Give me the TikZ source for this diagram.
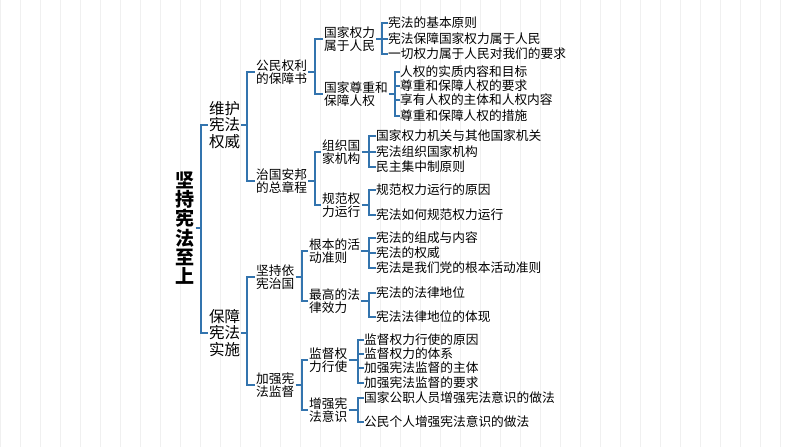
\documentclass[tikz,border=0pt]{standalone}
\usepackage{fontspec}
\setmainfont{Noto Sans CJK SC}
\begin{document}
\begin{tikzpicture}[x=1pt,y=-1pt,
  br/.style={draw=cyan!60!blue!80!black, line width=1.1pt},
  lf/.style={anchor=west, inner sep=0pt, font=\fontsize{12.7}{14}\selectfont},
  l2/.style={anchor=west, inner sep=1pt, align=left, font=\fontsize{12.7}{13.5}\selectfont},
  l1/.style={anchor=west, inner sep=1pt, align=left, font=\fontsize{15.5}{16.5}\selectfont},
]
\fill[white] (0,0) rectangle (794,447);
\useasboundingbox (0,0) rectangle (794,447);
\draw[black!6, line width=0.5pt, step=20] (0,0) grid (794,447);
% root
\node[align=center, inner sep=1pt, font=\fontsize{19}{19.3}\selectfont\bfseries] (r) at (185,228) {坚\\持\\宪\\法\\至\\上};
% level 1
\node[l1] (a) at (208,125) {维护\\宪法\\权威};
\node[l1] (b) at (208,333) {保障\\宪法\\实施};
\coordinate (rb) at (201,0);
\draw[br] (r.east) -- (rb|-r.east);
\foreach \c in {a,b} \draw[br] (rb|-r.east) |- (\c.west);
% level 2 under a
\node[l2] (a1) at (255,72) {公民权利\\的保障书};
\node[l2] (a2) at (255,181) {治国安邦\\的总章程};
\coordinate (ab) at (247,0);
\draw[br] (a.east) -- (ab|-a.east);
\foreach \c in {a1,a2} \draw[br] (ab|-a.east) |- (\c.west);
% level 3 under a1
\node[l2] (a11) at (323,39) {国家权力\\属于人民};
\node[l2] (a12) at (323,94) {国家尊重和\\保障人权};
\coordinate (a1b) at (315,0);
\draw[br] (a1.east) -- (a1b|-a1.east);
\foreach \c in {a11,a12} \draw[br] (a1b|-a1.east) |- (\c.west);
% leaves a11
\node[lf] (x1) at (388,23) {宪法的基本原则};
\node[lf] (x2) at (388,39) {宪法保障国家权力属于人民};
\node[lf] (x3) at (388,54) {一切权力属于人民对我们的要求};
\coordinate (a11b) at (382,0);
\draw[br] (a11.east) -- (a11b|-a11.east);
\foreach \c in {x1,x2,x3} \draw[br] (a11b|-a11.east) |- (\c.west);
% leaves a12
\node[lf] (y1) at (400,72) {人权的实质内容和目标};
\node[lf] (y2) at (400,86) {尊重和保障人权的要求};
\node[lf] (y3) at (400,100) {享有人权的主体和人权内容};
\node[lf] (y4) at (400,116) {尊重和保障人权的措施};
\coordinate (a12b) at (395,0);
\draw[br] (a12.east) -- (a12b|-a12.east);
\foreach \c in {y1,y2,y3,y4} \draw[br] (a12b|-a12.east) |- (\c.west);
% level 3 under a2
\node[l2] (a21) at (321,152) {组织国\\家机构};
\node[l2] (a22) at (321,205) {规范权\\力运行};
\coordinate (a2b) at (315,0);
\draw[br] (a2.east) -- (a2b|-a2.east);
\foreach \c in {a21,a22} \draw[br] (a2b|-a2.east) |- (\c.west);
\node[lf] (z1) at (376,136) {国家权力机关与其他国家机关};
\node[lf] (z2) at (376,152) {宪法组织国家机构};
\node[lf] (z3) at (376,167) {民主集中制原则};
\coordinate (a21b) at (369,0);
\draw[br] (a21.east) -- (a21b|-a21.east);
\foreach \c in {z1,z2,z3} \draw[br] (a21b|-a21.east) |- (\c.west);
\node[lf] (w1) at (376,190) {规范权力运行的原因};
\node[lf] (w2) at (376,215) {宪法如何规范权力运行};
\coordinate (a22b) at (369,0);
\draw[br] (a22.east) -- (a22b|-a22.east);
\foreach \c in {w1,w2} \draw[br] (a22b|-a22.east) |- (\c.west);
% level 2 under b
\node[l2] (b1) at (255,277) {坚持依\\宪治国};
\node[l2] (b2) at (255,385) {加强宪\\法监督};
\coordinate (bb) at (247,0);
\draw[br] (b.east) -- (bb|-b.east);
\foreach \c in {b1,b2} \draw[br] (bb|-b.east) |- (\c.west);
\node[l2] (b11) at (308,251) {根本的活\\动准则};
\node[l2] (b12) at (308,301) {最高的法\\律效力};
\coordinate (b1b) at (302,0);
\draw[br] (b1.east) -- (b1b|-b1.east);
\foreach \c in {b11,b12} \draw[br] (b1b|-b1.east) |- (\c.west);
\node[lf] (p1) at (376,238) {宪法的组成与内容};
\node[lf] (p2) at (376,253) {宪法的权威};
\node[lf] (p3) at (376,268) {宪法是我们党的根本活动准则};
\coordinate (b11b) at (369,0);
\draw[br] (b11.east) -- (b11b|-b11.east);
\foreach \c in {p1,p2,p3} \draw[br] (b11b|-b11.east) |- (\c.west);
\node[lf] (q1) at (376,293) {宪法的法律地位};
\node[lf] (q2) at (376,317) {宪法法律地位的体现};
\coordinate (b12b) at (369,0);
\draw[br] (b12.east) -- (b12b|-b12.east);
\foreach \c in {q1,q2} \draw[br] (b12b|-b12.east) |- (\c.west);
\node[l2] (b21) at (308,360) {监督权\\力行使};
\node[l2] (b22) at (308,410) {增强宪\\法意识};
\coordinate (b2b) at (302,0);
\draw[br] (b2.east) -- (b2b|-b2.east);
\foreach \c in {b21,b22} \draw[br] (b2b|-b2.east) |- (\c.west);
\node[lf] (s1) at (364,340) {监督权力行使的原因};
\node[lf] (s2) at (364,354) {监督权力的体系};
\node[lf] (s3) at (364,368) {加强宪法监督的主体};
\node[lf] (s4) at (364,383) {加强宪法监督的要求};
\coordinate (b21b) at (358,0);
\draw[br] (b21.east) -- (b21b|-b21.east);
\foreach \c in {s1,s2,s3,s4} \draw[br] (b21b|-b21.east) |- (\c.west);
\node[lf] (t1) at (364,398) {国家公职人员增强宪法意识的做法};
\node[lf] (t2) at (364,422) {公民个人增强宪法意识的做法};
\coordinate (b22b) at (358,0);
\draw[br] (b22.east) -- (b22b|-b22.east);
\foreach \c in {t1,t2} \draw[br] (b22b|-b22.east) |- (\c.west);
\end{tikzpicture}
\end{document}
